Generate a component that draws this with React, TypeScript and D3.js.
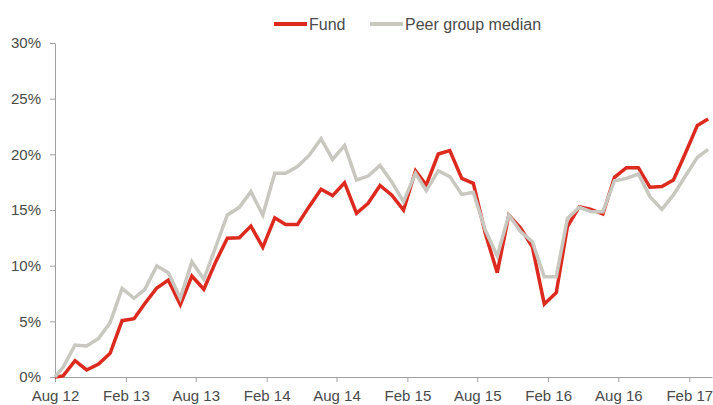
import React, { useRef, useEffect } from 'react';
import * as d3 from 'd3';

// monthly readings (cumulative return, %), first value is the Aug 12 start point
const fund = [
  0, 0.1, 1.46, 0.63, 1.17, 2.13, 5.06, 5.24, 6.6, 8.0, 8.7, 6.5, 9.07, 7.88, 10.36, 12.46, 12.51,
  13.56, 11.65, 14.3, 13.7, 13.7, 15.3, 16.86, 16.29, 17.45, 14.7, 15.6, 17.2, 16.35, 15.0, 18.53,
  17.25, 20.03, 20.33, 17.84, 17.4, 12.9, 9.37, 14.55, 13.36, 11.7, 6.56, 7.57, 13.5, 15.3, 15.06,
  14.64, 17.94, 18.8, 18.8, 17.04, 17.1, 17.7, 20.1, 22.6, 23.17,
];
const peer = [
  0, 0.87, 2.87, 2.78, 3.47, 4.88, 7.96, 7.07, 7.88, 9.97, 9.37, 7.07, 10.36, 8.78, 11.7, 14.55, 15.24,
  16.65, 14.55, 18.3, 18.3, 18.9, 19.9, 21.4, 19.55, 20.8, 17.7, 18.05, 19.0, 17.54, 15.75, 18.3,
  16.74, 18.53, 18.0, 16.4, 16.6, 13.2, 10.87, 14.55, 13.05, 12.15, 9.0, 9.0, 14.25, 15.24, 14.85,
  14.85, 17.63, 17.84, 18.23, 16.2, 15.06, 16.35, 18.05, 19.73, 20.45,
];
const tickLabels = ['Aug 12', 'Feb 13', 'Aug 13', 'Feb 14', 'Aug 14', 'Feb 15', 'Aug 15', 'Feb 16', 'Aug 16', 'Feb 17'];
const yTicks = [0, 5, 10, 15, 20, 25, 30];

const RED = '#dc2a1f';
const GREY = '#c8c8c0';
const TEXT = '#4a4a4a';
const AXIS = '#a0a0a0';
const FONT = '"Liberation Sans", Arial, sans-serif';

const App = () => {
  const svgRef = useRef<SVGSVGElement>(null);

  useEffect(() => {
    const svg = d3.select(svgRef.current);
    svg.selectAll('*').remove();

    const start = new Date(2012, 7, 1);
    // start point sits on the Aug 12 tick, month readings fall ~3 weeks into each month
    const dates = fund.map((_, i) =>
      i === 0 ? start : d3.timeDay.offset(d3.timeMonth.offset(start, i - 1), 21)
    );
    const tickDates = tickLabels.map((_, i) => d3.timeMonth.offset(start, i * 6));

    const x = d3.scaleTime()
      .domain([start, new Date(2017, 3, 1)])
      .range([55, 712]);
    const y = d3.scaleLinear().domain([0, 30]).range([377, 43]);

    // Axes
    const xAxis = svg.append('g')
      .attr('transform', 'translate(0,377)')
      .call(d3.axisBottom(x).tickValues(tickDates).tickSize(5).tickSizeOuter(0).tickPadding(8)
        .tickFormat((_, i) => tickLabels[i]));
    const yAxis = svg.append('g')
      .attr('transform', 'translate(55,0)')
      .call(d3.axisLeft(y).tickValues(yTicks).tickSize(5).tickSizeOuter(0).tickPadding(9)
        .tickFormat(d => `${d}%`));

    [xAxis, yAxis].forEach(a => {
      a.selectAll('path, line').attr('stroke', AXIS);
      a.selectAll('text')
        .attr('fill', TEXT)
        .style('font-family', FONT)
        .style('font-size', '15px');
    });

    // Lines
    const line = d3.line<number>()
      .x((_, i) => x(dates[i]))
      .y(d => y(d));

    svg.append('path')
      .datum(fund)
      .attr('fill', 'none')
      .attr('stroke', RED)
      .attr('stroke-width', 3.5)
      .attr('stroke-linejoin', 'miter')
      .attr('d', line);

    svg.append('path')
      .datum(peer)
      .attr('fill', 'none')
      .attr('stroke', GREY)
      .attr('stroke-width', 3.5)
      .attr('stroke-linejoin', 'miter')
      .attr('d', line);

    // Legend
    const legend = [
      { label: 'Fund', color: RED, x: 274 },
      { label: 'Peer group median', color: GREY, x: 370 },
    ];
    const lg = svg.append('g');
    legend.forEach(l => {
      lg.append('line')
        .attr('x1', l.x).attr('x2', l.x + 33)
        .attr('y1', 24).attr('y2', 24)
        .attr('stroke', l.color)
        .attr('stroke-width', 4);
      lg.append('text')
        .attr('x', l.x + 35)
        .attr('y', 24)
        .attr('dy', '0.35em')
        .attr('fill', TEXT)
        .style('font-family', FONT)
        .style('font-size', '16px')
        .text(l.label);
    });
  }, []);

  return (
    <svg
      ref={svgRef}
      width={713}
      height={405}
      style={{ position: 'absolute', left: 0, top: 0, background: '#fff' }}
    />
  );
};

export default App;
